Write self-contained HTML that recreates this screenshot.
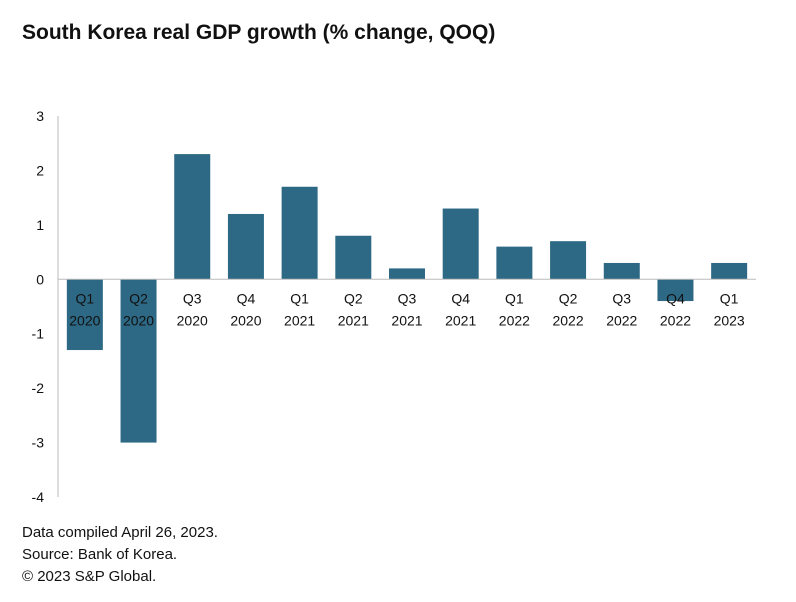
<!DOCTYPE html>
<html><head><meta charset="utf-8"><style>
body{margin:0;background:#fff;font-family:"Liberation Sans",Arial,sans-serif;}
#wrap{position:relative;width:796px;height:602px;overflow:hidden;}
.t{position:absolute;left:22px;top:21px;font-size:21px;font-weight:bold;color:#111;}
.f{position:absolute;left:22px;font-size:15px;color:#111;}
</style></head><body>
<div id="wrap">
<div class="t">South Korea real GDP growth (% change, QOQ)</div>
<svg id="c" width="796" height="602" style="position:absolute;left:0;top:0"></svg>
<div class="f" style="top:524px">Data compiled April 26, 2023.</div>
<div class="f" style="top:546px">Source: Bank of Korea.</div>
<div class="f" style="top:568px">© 2023 S&amp;P Global.</div>
</div>
<script>
const quarters=["Q1","Q2","Q3","Q4","Q1","Q2","Q3","Q4","Q1","Q2","Q3","Q4","Q1"];
const years=["2020","2020","2020","2020","2021","2021","2021","2021","2022","2022","2022","2022","2023"];
const growth=[-1.3,-3.0,2.3,1.2,1.7,0.8,0.2,1.3,0.6,0.7,0.3,-0.4,0.3];
const yTicks=[3,2,1,0,-1,-2,-3,-4];
const NS="http://www.w3.org/2000/svg";
const svg=document.getElementById('c');
const x0=58,x1=756,yTop=116,yBot=497,vMax=3,vMin=-4;
const y=v=>yTop+(vMax-v)/(vMax-vMin)*(yBot-yTop);
const band=(x1-x0)/quarters.length;
const xc=i=>x0+band*(i+0.5);
function mk(t,a){const e=document.createElementNS(NS,t);for(const k in a)e.setAttribute(k,a[k]);svg.appendChild(e);return e;}
const ax=mk('line',{x1:x0,x2:x0,y1:yTop,y2:yBot,stroke:'#bbb','stroke-width':1});


yTicks.forEach(v=>{
 const t=mk('text',{x:44,y:y(v)+5,'text-anchor':'end','font-size':14,fill:'#111'});
 t.textContent=v;
 
 
});
growth.forEach((v,i)=>{
 const bw=36,top=Math.min(y(v),y(0)),h=Math.abs(y(v)-y(0));
 const r=mk('rect',{x:xc(i)-bw/2,y:top,width:bw,height:h,fill:'#2d6985'});
 
 
});
const za=mk('line',{x1:x0,x2:x1,y1:y(0),y2:y(0),stroke:'#bbb','stroke-width':1});


quarters.forEach((q,i)=>{
 const t1=mk('text',{x:xc(i),y:y(0)+24,'text-anchor':'middle','font-size':14,fill:'#111'});
 t1.textContent=q;
 
 
 const t2=mk('text',{x:xc(i),y:y(0)+46,'text-anchor':'middle','font-size':14,fill:'#111'});
 t2.textContent=years[i];
 
 
});
</script>
</body></html>
